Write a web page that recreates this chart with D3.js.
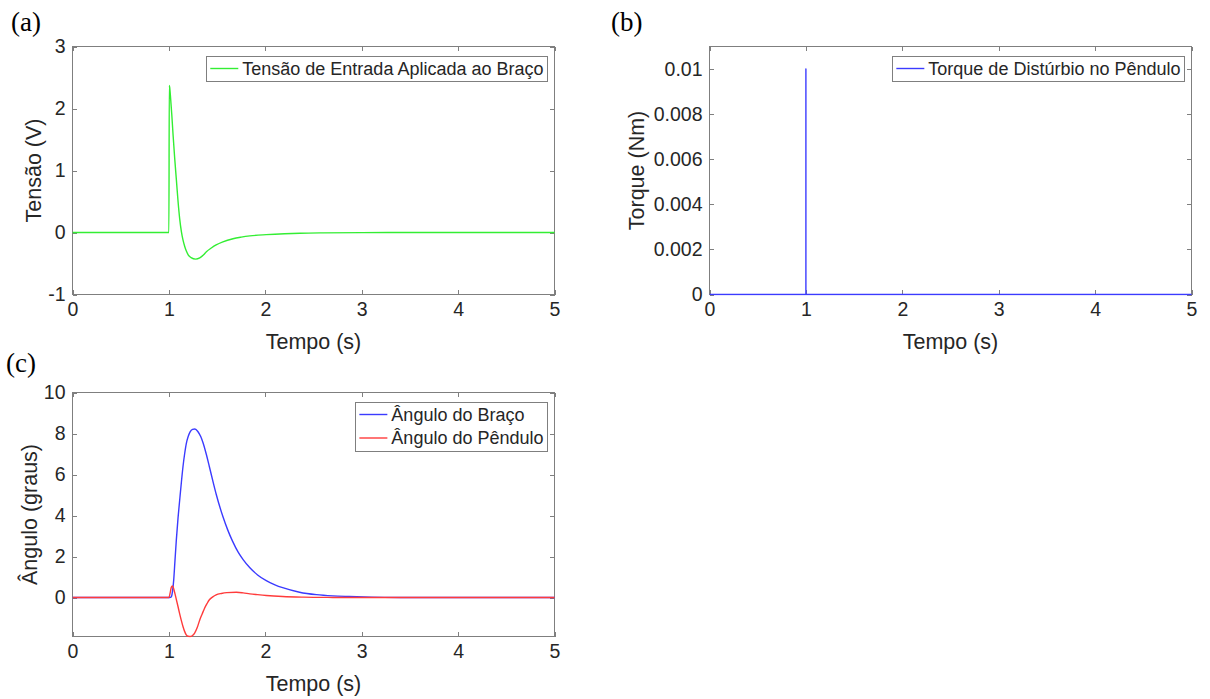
<!DOCTYPE html>
<html>
<head>
<meta charset="utf-8">
<script src="https://cdn.jsdelivr.net/npm/d3@7"></script>
<style>
  html, body { margin: 0; padding: 0; background: #ffffff; }
  svg { display: block; }
  text { font-family: "Liberation Sans", Arial, Helvetica, sans-serif; fill: #262626; }
  .panel-tag { font-family: "Liberation Serif", "Times New Roman", serif; fill: #000; }
</style>
</head>
<body>
<svg id="fig" width="1210" height="699"></svg>
<script>
// ---- Data -------------------------------------------------------------
// (a) input voltage applied to the arm
const tempoTensao = [0, 1.000, 1.004, 1.008, 1.017, 1.030, 1.043, 1.060, 1.078, 1.095, 1.112, 1.130,
  1.146, 1.165, 1.181, 1.200, 1.230, 1.278, 1.320, 1.360, 1.389, 1.440, 1.490, 1.560, 1.665, 1.750,
  1.840, 2.010, 2.200, 2.360, 2.600, 3.000, 3.500, 4.000, 5.000];
const tensao = [0, 0, 2.37, 2.34, 2.18, 1.90, 1.58, 1.20, 0.84, 0.50, 0.22, 0.01,
  -0.12, -0.23, -0.30, -0.36, -0.405, -0.43, -0.41, -0.36, -0.31, -0.25, -0.20, -0.15, -0.10, -0.075,
  -0.055, -0.035, -0.020, -0.012, -0.006, -0.002, 0, 0, 0];

// (b) disturbance torque on the pendulum
const tempoTorque = [0, 1, 1, 1, 5];
const torque = [0, 0, 0.01, 0, 0];

// (c) arm angle and pendulum angle
const tempoBraco = [0, 1.000, 1.015, 1.026, 1.040, 1.050, 1.063, 1.077, 1.095, 1.112, 1.130, 1.146,
  1.163, 1.180, 1.200, 1.220, 1.245, 1.270, 1.300, 1.330, 1.354, 1.390, 1.420, 1.455, 1.490,
  1.560, 1.610, 1.660, 1.720, 1.770, 1.840, 1.920, 2.010, 2.100, 2.180, 2.355, 2.530, 2.700, 2.870,
  3.100, 3.400, 4.000, 5.000];
const anguloBraco = [0, 0, 0.01, 0.05, 0.40, 0.86, 1.80, 2.80, 3.90, 4.76, 5.65, 6.38,
  7.00, 7.50, 7.85, 8.08, 8.20, 8.22, 8.10, 7.85, 7.55, 6.95, 6.38, 5.70, 5.05,
  3.95, 3.30, 2.75, 2.20, 1.85, 1.45, 1.10, 0.82, 0.62, 0.48, 0.26, 0.14, 0.08, 0.05,
  0.02, 0.005, 0, 0];

const tempoPendulo = [0, 1.000, 1.012, 1.025, 1.036, 1.048, 1.062, 1.078, 1.095, 1.110, 1.128, 1.146,
  1.163, 1.180, 1.200, 1.220, 1.245, 1.267, 1.295, 1.320, 1.345, 1.370, 1.395, 1.420, 1.455, 1.490,
  1.545, 1.600, 1.700, 1.770, 1.840, 1.920, 2.010, 2.180, 2.400, 2.700, 3.000, 5.000];
const anguloPendulo = [0, 0, 0.20, 0.50, 0.57, 0.45, 0.20, -0.11, -0.45, -0.76, -1.10, -1.41,
  -1.65, -1.82, -1.89, -1.90, -1.85, -1.73, -1.45, -1.09, -0.80, -0.52, -0.30, -0.11, 0.03, 0.13,
  0.20, 0.24, 0.26, 0.23, 0.18, 0.14, 0.10, 0.05, 0.02, 0.005, 0, 0];

// ---- Ticks ------------------------------------------------------------
const xTicks = [0, 1, 2, 3, 4, 5];
const yTicksTensao = [-1, 0, 1, 2, 3];
const yTicksTorque = [0, 0.002, 0.004, 0.006, 0.008, 0.01];
const yTickLabelsTorque = ["0", "0.002", "0.004", "0.006", "0.008", "0.01"];
const yTicksAngulo = [0, 2, 4, 6, 8, 10];

// ---- Drawing ----------------------------------------------------------
const svg = d3.select("#fig");
const BOX = "#7f7f7f";
const TICK_LEN = 4.8;
const LINE_W = 1.4;

function drawPanel(p) {
  const x = d3.scaleLinear().domain([0, 5]).range([p.left, p.right]);
  const y = d3.scaleLinear().domain(p.yDomain).range([p.bottom, p.top]);
  const g = svg.append("g");

  // axes box (under the data)
  g.append("rect")
    .attr("x", p.left).attr("y", p.top)
    .attr("width", p.right - p.left).attr("height", p.bottom - p.top)
    .attr("fill", "#fff").attr("stroke", BOX).attr("stroke-width", 1)
    .attr("shape-rendering", "crispEdges");

  const styleAxis = sel => {
    sel.select(".domain").remove();
    sel.selectAll(".tick line").attr("stroke", BOX).attr("shape-rendering", "crispEdges");
    sel.selectAll(".tick text").attr("fill", "#262626").style("font-size", "19.5px");
  };

  // bottom axis (labelled), ticks pointing inward
  g.append("g").attr("transform", `translate(0,${p.bottom})`)
    .call(d3.axisBottom(x).tickValues(xTicks).tickSize(-TICK_LEN).tickPadding(7.5)
      .tickFormat(d3.format("d")))
    .call(styleAxis);
  // top axis ticks
  g.append("g").attr("transform", `translate(0,${p.top})`)
    .call(d3.axisTop(x).tickValues(xTicks).tickSize(-TICK_LEN).tickFormat(""))
    .call(styleAxis);
  // left axis (labelled)
  g.append("g").attr("transform", `translate(${p.left},0)`)
    .call(d3.axisLeft(y).tickValues(p.yTicks).tickSize(-TICK_LEN).tickPadding(7)
      .tickFormat((d, i) => p.yLabels[i]))
    .call(styleAxis);
  // right axis ticks
  g.append("g").attr("transform", `translate(${p.right},0)`)
    .call(d3.axisRight(y).tickValues(p.yTicks).tickSize(-TICK_LEN).tickFormat(""))
    .call(styleAxis);

  // clipped data lines
  const clipId = "clip-" + p.key;
  svg.append("clipPath").attr("id", clipId)
    .append("rect")
    .attr("x", p.left).attr("y", p.top - 1)
    .attr("width", p.right - p.left + 1).attr("height", p.bottom - p.top + 2);

  const lines = g.append("g").attr("clip-path", `url(#${clipId})`);
  p.series.forEach(s => {
    const pts = s.t.map((t, i) => [t, s.v[i]]);
    const line = d3.line()
      .x(d => x(d[0])).y(d => y(d[1]))
      .curve(s.curve || d3.curveMonotoneX);
    lines.append("path")
      .attr("d", line(pts))
      .attr("fill", "none")
      .attr("stroke", s.color)
      .attr("stroke-width", LINE_W)
      .attr("stroke-linejoin", "round");
  });

  // axis titles
  g.append("text")
    .attr("x", (p.left + p.right) / 2).attr("y", p.bottom + 54.5)
    .attr("text-anchor", "middle").style("font-size", "21.5px")
    .text("Tempo (s)");
  g.append("text")
    .attr("transform", `translate(${p.yTitleX},${(p.top + p.bottom) / 2}) rotate(-90)`)
    .attr("text-anchor", "middle").style("font-size", "21.5px")
    .text(p.yTitle);

  // legend, anchored to the upper-right corner
  const lg = g.append("g");
  const rowH = 23.5;
  const boxTop = p.top + 9.5;
  const boxH = p.series.length === 1 ? 25 : 49;
  const texts = p.series.map((s, i) =>
    lg.append("text")
      .attr("y", boxTop + 12.5 + i * rowH).attr("dy", "0.35em")
      .style("font-size", "18px").attr("fill", "#000")
      .text(s.name));
  const w = d3.max(texts, t => t.node().getComputedTextLength());
  const boxW = 4 + 28 + 4 + w + 3.5;
  const boxRight = p.right - 7.5;
  const boxLeft = boxRight - boxW;
  lg.insert("rect", "text")
    .attr("x", boxLeft).attr("y", boxTop)
    .attr("width", boxW).attr("height", boxH)
    .attr("fill", "#fff").attr("stroke", BOX).attr("stroke-width", 1)
    .attr("shape-rendering", "crispEdges");
  p.series.forEach((s, i) => {
    const cy = boxTop + 12.5 + i * rowH;
    lg.append("line")
      .attr("x1", boxLeft + 4).attr("x2", boxLeft + 32)
      .attr("y1", cy).attr("y2", cy)
      .attr("stroke", s.color).attr("stroke-width", LINE_W);
    texts[i].attr("x", boxLeft + 36);
  });

  // panel tag
  svg.append("text").attr("class", "panel-tag")
    .attr("x", p.tagX).attr("y", p.tagY)
    .style("font-size", "27px")
    .text(p.tag);
}

drawPanel({
  key: "a", tag: "(a)", tagX: 11, tagY: 31,
  left: 72.5, right: 554.5, top: 46.5, bottom: 294.5,
  yDomain: [-1, 3], yTicks: yTicksTensao, yLabels: yTicksTensao.map(String),
  yTitle: "Tensão (V)", yTitleX: 40.5,
  series: [{ name: "Tensão de Entrada Aplicada ao Braço", t: tempoTensao, v: tensao, color: "#33ee33" }]
});

drawPanel({
  key: "b", tag: "(b)", tagX: 611, tagY: 31,
  left: 709.5, right: 1191.5, top: 46.5, bottom: 294.5,
  yDomain: [0, 0.011], yTicks: yTicksTorque, yLabels: yTickLabelsTorque,
  yTitle: "Torque (Nm)", yTitleX: 644,
  series: [{ name: "Torque de Distúrbio no Pêndulo", t: tempoTorque, v: torque, color: "#3b3bff",
             curve: d3.curveLinear }]
});

drawPanel({
  key: "c", tag: "(c)", tagX: 6, tagY: 372,
  left: 72.5, right: 554.5, top: 392.5, bottom: 636.5,
  yDomain: [-1.9, 10], yTicks: yTicksAngulo, yLabels: yTicksAngulo.map(String),
  yTitle: "Ângulo (graus)", yTitleX: 36.5,
  series: [
    { name: "Ângulo do Braço", t: tempoBraco, v: anguloBraco, color: "#3b3bff" },
    { name: "Ângulo do Pêndulo", t: tempoPendulo, v: anguloPendulo, color: "#ff3b3b" }
  ]
});
</script>
</body>
</html>
